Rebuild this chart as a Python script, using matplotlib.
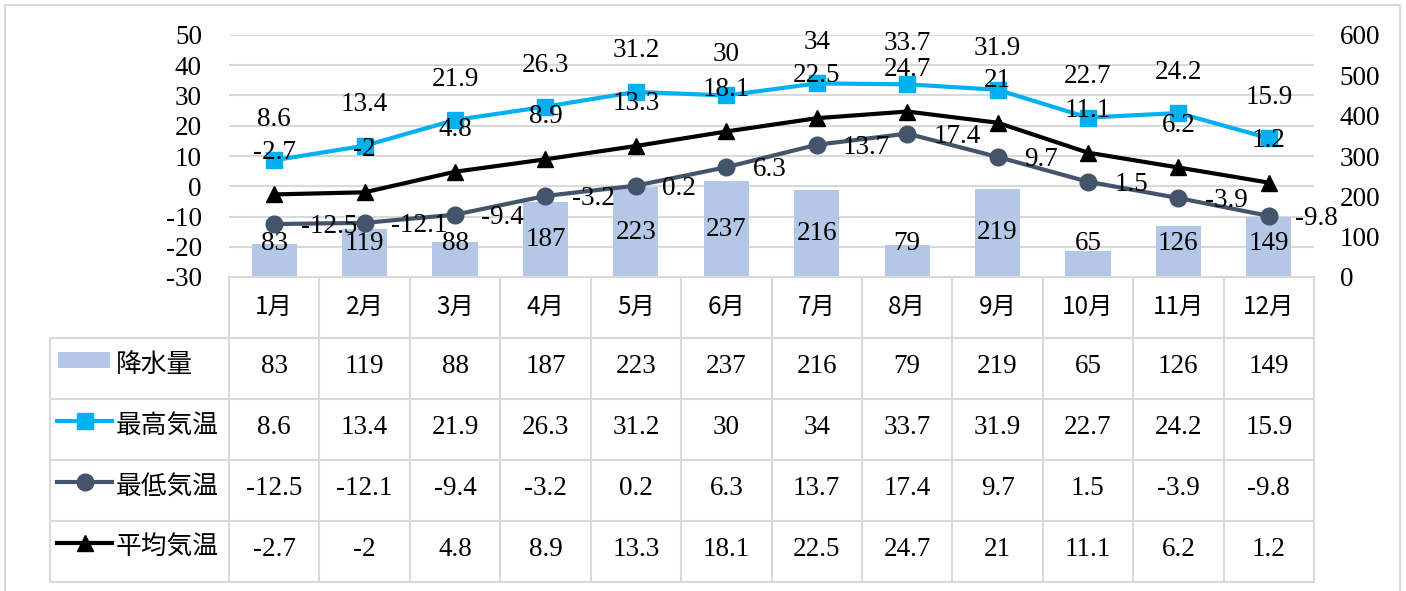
import matplotlib
matplotlib.use("Agg")
import matplotlib.pyplot as plt
from matplotlib.lines import Line2D
from matplotlib.patches import Rectangle
import matplotlib.transforms as mtransforms

plt.rcParams["axes.unicode_minus"] = False

# ==================== データ ====================
months = ["1月", "2月", "3月", "4月", "5月", "6月", "7月", "8月", "9月", "10月", "11月", "12月"]
rain = [83, 119, 88, 187, 223, 237, 216, 79, 219, 65, 126, 149]
t_max = [8.6, 13.4, 21.9, 26.3, 31.2, 30, 34, 33.7, 31.9, 22.7, 24.2, 15.9]
t_min = [-12.5, -12.1, -9.4, -3.2, 0.2, 6.3, 13.7, 17.4, 9.7, 1.5, -3.9, -9.8]
t_avg = [-2.7, -2, 4.8, 8.9, 13.3, 18.1, 22.5, 24.7, 21, 11.1, 6.2, 1.2]
left_ticks = [-30, -20, -10, 0, 10, 20, 30, 40, 50]
right_ticks = [0, 100, 200, 300, 400, 500, 600]
# ================================================

W, H = 1406, 591
C_BAR = "#B4C7E7"
C_MAX = "#00B0F0"
C_MIN = "#44546A"
C_AVG = "#000000"
C_GRID = "#D9D9D9"
NUM_FONT = ["Liberation Serif", "DejaVu Serif"]
JP_FONT = ["Noto Sans CJK JP", "DejaVu Sans"]
FS = 19.5


def fx(x):
    return x / W


def fy(y):
    return 1 - y / H


fig = plt.figure(figsize=(W / 100, H / 100), dpi=100)

# 外枠
fig.add_artist(Rectangle((fx(5), fy(600)), fx(1400) - fx(5), fy(5) - fy(600),
                         transform=fig.transFigure, fill=False, ec=C_GRID, lw=1.5))

x0, x1, ytop, ybot = 229, 1314, 35, 277
ax2 = fig.add_axes([fx(x0), fy(ybot), fx(x1) - fx(x0), fy(ytop) - fy(ybot)])
ax = ax2.twinx()
ax.yaxis.tick_left()
ax2.yaxis.tick_right()
ax.set_zorder(ax2.get_zorder() + 1)
ax.patch.set_visible(False)

xs = list(range(len(months)))
for a in (ax, ax2):
    a.set_xlim(-0.5, len(months) - 0.5)
    for s in a.spines.values():
        s.set_visible(False)
    a.set_xticks([])
    a.tick_params(axis="y", length=0)

ax.set_ylim(-30, 50)
ax2.set_ylim(0, 600)
ax.set_yticks(left_ticks)
ax.set_yticklabels([str(t) for t in left_ticks], family=NUM_FONT, fontsize=FS)
ax.tick_params(axis="y", pad=19.5)
ax2.set_yticks(right_ticks)
ax2.set_yticklabels([str(t) for t in right_ticks], family=NUM_FONT, fontsize=FS)
ax2.tick_params(axis="y", pad=18.5)

# グリッド（左軸基準、棒の下）
trans = mtransforms.blended_transform_factory(ax2.transAxes, ax.transData)
for t in left_ticks[1:]:
    ax2.plot([0, 1], [t, t], transform=trans, color=C_GRID, lw=1.5, zorder=0)

# 降水量
ax2.bar(xs, rain, width=0.5, color=C_BAR, zorder=1)
for i, v in enumerate(rain):
    ax2.text(i, max(v / 2, 84), str(v), ha="center", va="center",
             family=NUM_FONT, fontsize=FS, zorder=3)

# 気温
ax.plot(xs, t_max, color=C_MAX, lw=3, marker="s", ms=12, zorder=2)
ax.plot(xs, t_min, color=C_MIN, lw=3, marker="o", ms=12, zorder=2)
ax.plot(xs, t_avg, color=C_AVG, lw=3, marker="^", ms=11, zorder=2)

for i in xs:
    ax.annotate(f"{t_max[i]:g}", (i, t_max[i]), xytext=(0, 29.5), textcoords="offset points",
                ha="center", va="center", family=NUM_FONT, fontsize=FS, zorder=5)
    ax.annotate(f"{t_avg[i]:g}", (i, t_avg[i]), xytext=(0, 30.5), textcoords="offset points",
                ha="center", va="center", family=NUM_FONT, fontsize=FS, zorder=5)
    ax.annotate(f"{t_min[i]:g}", (i, t_min[i]), xytext=(19, -2), textcoords="offset points",
                ha="left", va="center", family=NUM_FONT, fontsize=FS, zorder=5)

# データテーブル
col_w = (x1 - x0) / len(months)
rows_y = [338, 399, 460, 521, 582]
lkw = dict(transform=fig.transFigure, color=C_GRID, lw=1.5)
fig.add_artist(Line2D([fx(x0), fx(x1)], [fy(277), fy(277)], **lkw))
for y in rows_y:
    fig.add_artist(Line2D([fx(50), fx(x1)], [fy(y), fy(y)], **lkw))
fig.add_artist(Line2D([fx(50), fx(50)], [fy(338), fy(582)], **lkw))
for i in range(len(months) + 1):
    xv = x0 + i * col_w
    fig.add_artist(Line2D([fx(xv), fx(xv)], [fy(277), fy(582)], **lkw))

for i, m in enumerate(months):
    fig.text(fx(x0 + (i + 0.5) * col_w), fy(307), m, ha="center", va="center",
             family=JP_FONT, fontsize=17.5)

series = [("降水量", rain), ("最高気温", t_max), ("最低気温", t_min), ("平均気温", t_avg)]
for r, (name, vals) in enumerate(series):
    yc = (rows_y[r] + rows_y[r + 1]) / 2
    for i, v in enumerate(vals):
        fig.text(fx(x0 + (i + 0.5) * col_w), fy(yc - 2), f"{v:g}", ha="center", va="center",
                 family=NUM_FONT, fontsize=FS)
    fig.text(fx(116), fy(yc - 4), name, ha="left", va="center", family=JP_FONT, fontsize=18.5)

# 凡例キー
ky = [(338 + 399) / 2 - 9, (399 + 460) / 2 - 9, (460 + 521) / 2 - 9, (521 + 582) / 2 - 9]
fig.add_artist(Rectangle((fx(58), fy(ky[0] + 8)), fx(110) - fx(58), fy(ky[0] - 8) - fy(ky[0] + 8),
                         transform=fig.transFigure, color=C_BAR, lw=0))
for k, (c, mk, ms) in enumerate([(C_MAX, "s", 12), (C_MIN, "o", 12), (C_AVG, "^", 11)]):
    yk = fy(ky[k + 1])
    fig.add_artist(Line2D([fx(57), fx(112)], [yk, yk], transform=fig.transFigure,
                          color=c, lw=3))
    fig.add_artist(Line2D([fx(84.5)], [yk], transform=fig.transFigure, color=c,
                          marker=mk, ms=ms, lw=0))

fig.savefig("out.png", dpi=100)
